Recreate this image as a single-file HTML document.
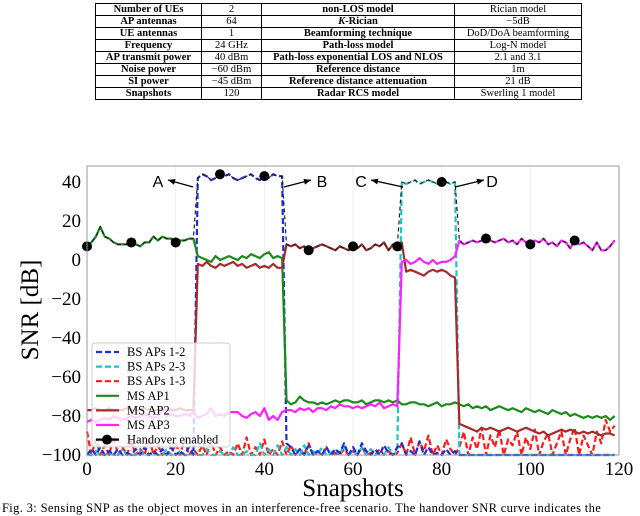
<!DOCTYPE html>
<html><head><meta charset="utf-8"><style>
body{margin:0;width:640px;height:510px;overflow:hidden;background:#fff;font-family:"Liberation Serif",serif;}
#tbl{position:absolute;left:95px;top:3px;border-collapse:collapse;font-size:10.5px;}
#tbl td{border:1px solid #000;height:11px;padding:0;text-align:center;line-height:11px;white-space:nowrap}
#tbl td.b{font-weight:bold}
#cap{position:absolute;left:2px;top:501px;font-size:12.5px;white-space:nowrap;letter-spacing:0.35px}
svg text{font-family:"Liberation Serif",serif}
svg text.sans{font-family:"Liberation Sans",sans-serif}
</style></head><body>
<table id="tbl">
<colgroup><col style="width:106px"><col style="width:60px"><col style="width:193px"><col style="width:127px"></colgroup>
<tr><td class="b">Number of UEs</td><td>2</td><td class="b">non-LOS model</td><td>Rician model</td></tr>
<tr><td class="b">AP antennas</td><td>64</td><td class="b"><i>K</i>-Rician</td><td>−5dB</td></tr>
<tr><td class="b">UE antennas</td><td>1</td><td class="b">Beamforming technique</td><td>DoD/DoA beamforming</td></tr>
<tr><td class="b">Frequency</td><td>24 GHz</td><td class="b">Path-loss model</td><td>Log-N model</td></tr>
<tr><td class="b">AP transmit power</td><td>40 dBm</td><td class="b">Path-loss exponential LOS and NLOS</td><td>2.1 and 3.1</td></tr>
<tr><td class="b">Noise power</td><td>−60 dBm</td><td class="b">Reference distance</td><td>1m</td></tr>
<tr><td class="b">SI power</td><td>−45 dBm</td><td class="b">Reference distance attenuation</td><td>21 dB</td></tr>
<tr><td class="b">Snapshots</td><td>120</td><td class="b">Radar RCS model</td><td>Swerling 1 model</td></tr>
</table>
<svg id="chart" width="640" height="510" style="position:absolute;left:0;top:0"></svg>
<div id="cap">Fig. 3: Sensing SNP as the object moves in an interference-free scenario. The handover SNR curve indicates the</div>
<script>
const xTicks=[0,20,40,60,80,100,120];
const yTicks=[40,20,0,-20,-40,-60,-80,-100];
const msAP1=[7,9,12,17,12,11,9,8,8,8,9,8,7,9,9,12,10,12,11,11,9,10,10,11,11,
2,1,0,-1,2,0,1,2,1,0,2,1,3,2,1,3,4,1,2,1,
-72,-74,-73,-70,-72,-73,-73,-74,-73,-74,-73,-72,-73,-72,-72,-73,-73,-72,-74,-73,
-72,-72,-73,-72,-73,-72,-74,-74,-73,-73,-74,-74,-75,-74,-73,-75,-74,-74,-73,-74,
-75,-74,-76,-75,-76,-75,-77,-76,-75,-76,-77,-76,-77,-78,-76,-77,-78,-77,-78,-79,
-77,-78,-79,-78,-80,-79,-80,-81,-80,-81,-80,-81,-80,-82,-80];
const msAP2=[-77,-77,-76,-77,-77,-76,-77,-77,-77,-76,-77,-77,-77,-76,-77,-77,-77,-76,-77,-77,-77,-76,-77,-77,-77,
-2,-3,-1,-3,-4,-2,-3,-2,-1,-3,-2,-4,-3,-2,-4,-3,-4,-2,-4,-4,
8,7,8,6,7,5,6,7,8,7,6,5,7,6,5,7,6,8,5,6,8,7,9,5,8,7,9,
-6,-5,-6,-7,-8,-6,-5,-6,-5,-6,-8,-9,
-84,-85,-86,-87,-88,-86,-87,-86,-87,-88,-87,-86,-87,-88,-87,-86,-87,-88,-89,-88,-90,-89,-88,-87,-88,-87,-88,-89,-88,-89,-88,-89,-90,-89,-89,-90];
const msAP3=[-83,-82,-83,-82,-81,-82,-80,-81,-82,-81,-80,-81,-80,-79,-80,-81,-80,-76,-80,-79,-80,-80,-79,-80,-78,-81,-80,-79,-76,-80,-79,-80,-78,-78,-78,-80,-81,-79,-78,-80,-76,-82,-80,-82,-78,
-77,-77,-78,-76,-77,-76,-78,-76,-76,-77,-75,-76,-74,-75,-75,-76,-75,-76,-75,-74,-75,-73,-76,-75,-74,-75,
-1,0,-2,-1,1,-1,-2,0,-2,-1,-1,0,2,
10,8,9,10,9,10,11,10,9,10,11,9,10,8,11,9,8,10,9,11,8,9,7,10,9,6,10,8,9,7,5,9,5,5,7,10];
const bs12=[-100,-97,-100,-96,-100,-98,-100,-97,-100,-99,-100,-97,-100,-96,-100,-98,-100,-97,-100,-96,-100,-98,-100,-96,-100,
42,44,43,41,42,44,43,44,42,41,42,43,44,42,41,43,42,44,43,43,
-94,-96,-100,-97,-100,-95,-100,-98,-100,-96,-100,-97,-99,-94,-100,-96,-100,-94,-98,-100,-97,-100,-95,-99,-100,-96,-94,-100,-98,-100,-93,-100,-96,-100,-99,-100,-97,-100,-98,-100,
-100,-100,-100,-100,-100,-100,-100,-100,-100,-100,-100,-100,-100,-100,-100,-100,-100,-100,-100,-100,-100,-100,-100,-100,-100,-100,-100,-100,-100,-100,-100,-100,-100,-100,-100];
const bs23=[-100,-100,-98,-100,-100,-99,-100,-100,-97,-100,-100,-100,-98,-100,-100,-99,-100,-100,-97,-100,-100,-98,-100,-100,-99,-100,-100,-97,-100,-100,-98,-100,-100,-96,-100,-100,-98,-100,-100,-94,-100,-97,-100,-95,-100,
-96,-100,-97,-100,-95,-100,-98,-100,-96,-100,-99,-97,-100,-95,-100,-98,-100,-96,-100,-97,-100,-99,-100,-96,-100,-98,
40,39,40,41,39,40,41,40,39,40,40,39,40,
-100,-100,-100,-100,-100,-100,-100,-100,-100,-100,-100,-100,-100,-100,-100,-100,-100,-100,-100,-100,-100,-100,-100,-100,-100,-100,-100,-100,-100,-100,-100,-100,-100,-100,-100,-100];
const bs13=[-88,-100,-92,-100,-95,-100,-90,-100,-96,-100,-93,-100,-97,-100,-91,-100,-95,-100,-98,-100,-94,-100,-92,-100,-97,-100,-95,-100,-93,-100,-96,-100,-98,-100,-94,-100,-91,-100,-96,-100,-92,-100,-97,-100,-93,
-100,-95,-100,-97,-100,-94,-100,-98,-100,-96,-100,-99,-100,-97,-100,-98,-100,-96,-100,-99,-100,-97,-100,-98,-100,-99,
-94,-100,-91,-100,-93,-98,-90,-100,-95,-100,-92,-97,-100,
-96,-88,-100,-91,-97,-86,-100,-90,-96,-87,-100,-92,-95,-88,-100,-91,-97,-87,-100,-93,-89,-100,-94,-88,-100,-92,-86,-100,-90,-95,-100,-88,-94,-82,-88,-85];
const handoverSnaps=[0,10,20,30,40,50,60,70,80,90,100,110];
const X0=87,X1=619,Y0=260,YS=1.95;
const xs=v=>X0+v*(X1-X0)/120, ys=v=>Y0-v*YS;
const svg=document.getElementById('chart');const NS='http://www.w3.org/2000/svg';
function mk(t,a,p){const e=document.createElementNS(NS,t);for(const k in a)e.setAttribute(k,a[k]);(p||svg).appendChild(e);return e;}
const plot=mk('g',{});


for(const t of xTicks){const g=mk('line',{x1:xs(t),x2:xs(t),y1:166,y2:455,stroke:'#eee','stroke-width':0.8},plot);

}
function series(arr,color,dash,w,name){const pts=arr.map((v,i)=>xs(i).toFixed(1)+','+ys(Math.max(v,-100)).toFixed(1)).join(' ');
const p=mk('polyline',{points:pts,fill:'none',stroke:color,'stroke-width':w,'stroke-dasharray':dash||'none','stroke-linejoin':'round'},plot);

}
series(bs13,'#ff1a1a','6,3',2.2,'bs-aps-1-3-line');
series(bs23,'#1cc4c4','6,3',2.2,'bs-aps-2-3-line');
series(bs12,'#1a2de0','6,3',2.2,'bs-aps-1-2-line');
series(msAP1,'#1a8a1a','',2.2,'ms-ap1-line');
series(msAP2,'#a52a2a','',2.2,'ms-ap2-line');
series(msAP3,'#ff20ff','',2.2,'ms-ap3-line');
const handover=msAP1.map((v,i)=>Math.max(v,msAP2[i],msAP3[i],bs12[i],bs23[i]));
series(handover,'#222','4,3',1.2,'handover-line');
for(const s of handoverSnaps){const c=mk('circle',{cx:xs(s),cy:ys(handover[s]),r:5,fill:'#000'},plot);

}
const fr=mk('rect',{x:X0,y:166,width:X1-X0,height:289,fill:'none',stroke:'#999','stroke-width':1});


for(const t of xTicks){const e=mk('text',{x:xs(t),y:475,'text-anchor':'middle','font-size':19});e.textContent=t;

}
for(const t of yTicks){const e=mk('text',{x:81,y:ys(t)+6,'text-anchor':'end','font-size':19});e.textContent=String(t).replace('-','−');

}
const xt=mk('text',{x:353,y:496,'text-anchor':'middle','font-size':25});xt.textContent='Snapshots';


const yt=mk('text',{x:0,y:0,'text-anchor':'middle','font-size':25,transform:'translate(38,310) rotate(-90)'});yt.textContent='SNR [dB]';


const ann=[['A',158,168,193],['B',322,311,284],['C',361,371,403],['D',492,484,455]];
for(const a of ann){const t=mk('text',{x:a[1],y:187,'text-anchor':'middle','font-size':16,'class':'sans'});t.textContent=a[0];


mk('line',{x1:a[3],y1:187,x2:a[2],y2:180,stroke:'#000','stroke-width':1.3});
const dx=a[2]-a[3],dy=180-187,L=Math.hypot(dx,dy),ux=dx/L,uy=dy/L;
mk('polygon',{points:`${a[2]},180 ${a[2]-7*ux-3*uy},${180-7*uy+3*ux} ${a[2]-7*ux+3*uy},${180-7*uy-3*ux}`,fill:'#000'});}
const lg=mk('g',{});


mk('rect',{x:92,y:343,width:138,height:104,rx:3,fill:'rgba(255,255,255,0.8)',stroke:'#ccc'},lg);
const lgItems=[['BS APs 1-2','#1a2de0','6,3'],['BS APs 2-3','#1cc4c4','6,3'],['BS APs 1-3','#ff1a1a','6,3'],['MS AP1','#1a8a1a',''],['MS AP2','#a52a2a',''],['MS AP3','#ff20ff',''],['Handover enabled','#000','']];
lgItems.forEach((it,i)=>{const y=352+i*14.6;
mk('line',{x1:96,x2:119,y1:y,y2:y,stroke:it[1],'stroke-width':2.2,'stroke-dasharray':it[2]||'none'},lg);
if(i==6)mk('circle',{cx:107,cy:y,r:5,fill:'#000'},lg);
const t=mk('text',{x:127,y:y+4,'font-size':12.5},lg);t.textContent=it[0];

});
</script>
</body></html>
